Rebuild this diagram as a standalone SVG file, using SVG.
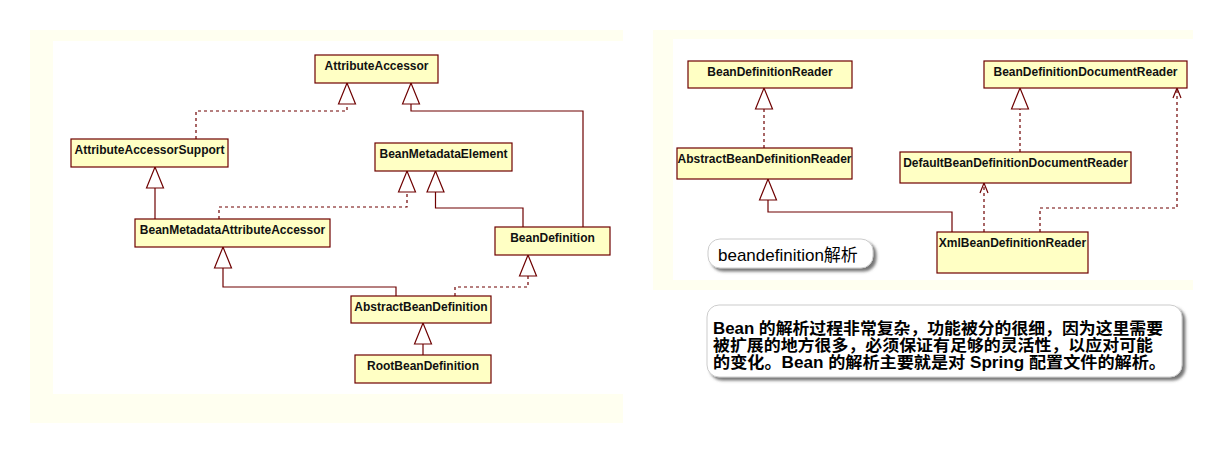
<svg xmlns="http://www.w3.org/2000/svg" width="1223" height="453" viewBox="0 0 1223 453">
<style>
.cls rect{fill:#ffffc4;stroke:#6e0000;stroke-width:1.2}
.cls text{font-family:"Liberation Sans",Arial,sans-serif;font-size:12px;font-weight:bold;fill:#111;text-anchor:middle}
.solid{fill:none;stroke:#6e0000;stroke-width:1.2;marker-end:url(#tri)}
.dash{fill:none;stroke:#6e0000;stroke-width:1.2;stroke-dasharray:3,3;marker-end:url(#tri)}
.dep{fill:none;stroke:#6e0000;stroke-width:1.2;stroke-dasharray:3,3;marker-end:url(#open)}
.note text{font-family:"Liberation Sans","Noto Sans CJK SC",sans-serif;fill:#000}
.note .ln{font-size:16px;font-weight:bold}
</style>
<defs>
<marker id="tri" viewBox="0 0 21 17" refX="21" refY="8.5" markerWidth="21" markerHeight="17" markerUnits="userSpaceOnUse" orient="auto" overflow="visible">
<path d="M0,0 L21,8.5 L0,17 Z" fill="#fff" stroke="#6e0000" stroke-width="1.2" stroke-dasharray="none"/>
</marker>
<marker id="open" viewBox="0 0 10 8" refX="10" refY="4" markerWidth="10" markerHeight="8" markerUnits="userSpaceOnUse" orient="auto" overflow="visible">
<path d="M0,0 L10,4 L0,8" fill="none" stroke="#6e0000" stroke-width="1.2" stroke-dasharray="none"/>
</marker>
<filter id="sh" x="-10%" y="-20%" width="130%" height="160%">
<feDropShadow dx="3" dy="3" stdDeviation="1.5" flood-color="#555" flood-opacity="0.8"/>
</filter>
</defs>
<rect width="1223" height="453" fill="#fff"/>
<rect x="30" y="30" width="593" height="393" fill="#fffff0"/>
<rect x="53" y="41" width="570" height="353" fill="#fff"/>
<rect x="653" y="30" width="540" height="260" fill="#fffff0"/>
<rect x="673" y="39" width="520" height="241" fill="#fff"/>

<g id="connectors">
<path class="dash" d="M196,139 V111 H347 V83"/>
<path class="solid" d="M583,227 V111 H411 V83"/>
<path class="solid" d="M155,219 V167"/>
<path class="dash" d="M219,219 V207 H407 V171"/>
<path class="solid" d="M523,227 V208 H435.5 V171"/>
<path class="solid" d="M396,296 V287 H223 V247"/>
<path class="dash" d="M455,296 V287 H528 V255"/>
<path class="solid" d="M423,355 V323"/>
<path class="dash" d="M764,148 V88"/>
<path class="solid" d="M952,232 V212 H768 V179"/>
<path class="dash" d="M1020,152 V88"/>
<path class="dep" d="M984,232 V183"/>
<path class="dep" d="M1040,232 V208 H1177 V88"/>
</g>

<g id="AttributeAccessor" class="cls"><rect x="315" y="55" width="123" height="28"/><text x="376.5" y="70">AttributeAccessor</text></g>
<g id="AttributeAccessorSupport" class="cls"><rect x="71" y="139" width="157" height="28"/><text x="149.5" y="154">AttributeAccessorSupport</text></g>
<g id="BeanMetadataElement" class="cls"><rect x="375" y="143" width="137" height="28"/><text x="443.5" y="158">BeanMetadataElement</text></g>
<g id="BeanMetadataAttributeAccessor" class="cls"><rect x="135" y="219" width="195" height="28"/><text x="232.5" y="234">BeanMetadataAttributeAccessor</text></g>
<g id="BeanDefinition" class="cls"><rect x="495" y="227" width="115" height="28"/><text x="552.5" y="242">BeanDefinition</text></g>
<g id="AbstractBeanDefinition" class="cls"><rect x="351" y="296" width="140" height="27"/><text x="421" y="311">AbstractBeanDefinition</text></g>
<g id="RootBeanDefinition" class="cls"><rect x="355" y="355" width="136" height="28"/><text x="423" y="370">RootBeanDefinition</text></g>

<g id="BeanDefinitionReader" class="cls"><rect x="688" y="61" width="164" height="27"/><text x="770" y="76">BeanDefinitionReader</text></g>
<g id="AbstractBeanDefinitionReader" class="cls"><rect x="677" y="148" width="175" height="31"/><text x="764.5" y="163">AbstractBeanDefinitionReader</text></g>
<g id="DefaultBeanDefinitionDocumentReader" class="cls"><rect x="900" y="152" width="231" height="31"/><text x="1015.5" y="167">DefaultBeanDefinitionDocumentReader</text></g>
<g id="BeanDefinitionDocumentReader" class="cls"><rect x="984" y="61" width="203" height="27"/><text x="1085.5" y="76">BeanDefinitionDocumentReader</text></g>
<g id="XmlBeanDefinitionReader" class="cls"><rect x="937" y="232" width="151" height="41"/><text x="1012.5" y="247">XmlBeanDefinitionReader</text></g>

<g id="label" class="note">
<rect x="708" y="239" width="165" height="29" rx="12" fill="#fff" stroke="#ccc" filter="url(#sh)"/>
<text x="718" y="261" font-size="17">beandefinition解析</text>
</g>
<g id="note" class="note">
<rect x="707" y="305" width="475" height="72" rx="12" fill="#fff" stroke="#ccc" filter="url(#sh)"/>
<text class="ln" x="713" y="334" textLength="450" lengthAdjust="spacingAndGlyphs">Bean 的解析过程非常复杂，功能被分的很细，因为这里需要</text>
<text class="ln" x="713" y="351" textLength="440" lengthAdjust="spacingAndGlyphs">被扩展的地方很多，必须保证有足够的灵活性，以应对可能</text>
<text class="ln" x="713" y="368" textLength="453" lengthAdjust="spacingAndGlyphs">的变化。Bean 的解析主要就是对 Spring 配置文件的解析。</text>
</g>
</svg>
